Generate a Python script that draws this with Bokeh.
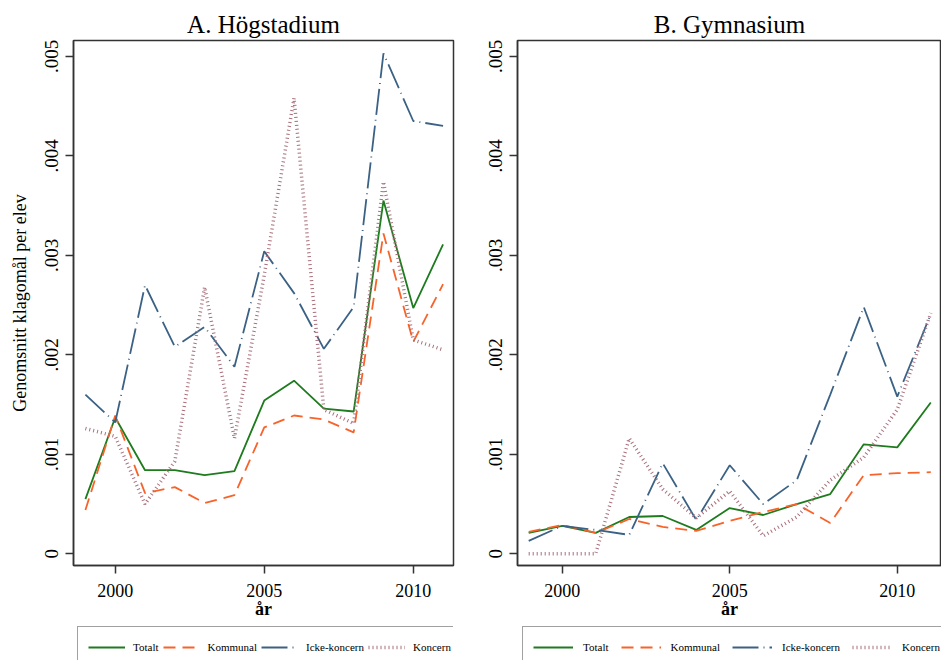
from bokeh.plotting import figure
from bokeh.models import (FixedTicker, CustomJSTickFormatter, Legend, LegendItem, Range1d)
from bokeh.layouts import row, column
from bokeh.embed import file_html
from bokeh.resources import INLINE

# ---------------- data ----------------
years = [1999, 2000, 2001, 2002, 2003, 2004, 2005, 2006, 2007, 2008, 2009, 2010, 2011]

series_names = ["Totalt", "Kommunal", "Icke-koncern", "Koncern"]

# A. Högstadium
hog_totalt = [0.00055, 0.00137, 0.00084, 0.00084, 0.00079, 0.00083, 0.00154,
              0.00174, 0.00146, 0.00143, 0.00355, 0.00247, 0.00311]
hog_kommunal = [0.00044, 0.00139, 0.00061, 0.00067, 0.00051, 0.00059, 0.00127,
                0.00139, 0.00135, 0.00122, 0.00322, 0.00213, 0.00271]
hog_icke = [0.00160, 0.00132, 0.00270, 0.00208, 0.00228, 0.00188, 0.00304,
            0.00262, 0.00206, 0.00248, 0.00503, 0.00435, 0.00430]
hog_koncern = [0.00126, 0.00118, 0.00050, 0.00093, 0.00268, 0.00116, 0.00280,
               0.00458, 0.00145, 0.00131, 0.00374, 0.00215, 0.00205]

# B. Gymnasium
gym_totalt = [0.00021, 0.00028, 0.00021, 0.00037, 0.00038, 0.00024, 0.00046,
              0.00039, 0.00050, 0.00060, 0.00110, 0.00107, 0.00152]
gym_kommunal = [0.00022, 0.00029, 0.00021, 0.00035, 0.00027, 0.00023, 0.00033,
                0.00042, 0.00050, 0.00031, 0.00079, 0.00081, 0.00082]
gym_icke = [0.00013, 0.00028, 0.00024, 0.00019, 0.00091, 0.00034, 0.00089,
            0.00050, 0.00074, 0.00160, 0.00248, 0.00158, 0.00241]
gym_koncern = [0.0, 0.0, 0.0, 0.00116, 0.00065, 0.00036, 0.00063,
               0.00018, 0.00037, 0.00074, 0.00097, 0.00145, 0.00242]

x_ticks = [2000, 2005, 2010]
y_ticks = [0, 0.001, 0.002, 0.003, 0.004, 0.005]

titles = ["A. Högstadium", "B. Gymnasium"]
x_title = "år"
y_title = "Genomsnitt klagomål per elev"

# ---------------- styles ----------------
FONT = "Liberation Serif"
AX = "#333333"
styles = [
    dict(line_color="#1e7b1e", line_width=1.8, line_dash="solid"),
    dict(line_color="#f8632a", line_width=1.8, line_dash="12 7"),
    dict(line_color="#3b6285", line_width=1.8, line_dash="26 5 1 5"),
    dict(line_color="#a8707c", line_width=3.5, line_dash="1 3"),
]

MAIN_H = 625
LEG_H = 35


def make_panel(title, data, width, b_left, b_right, x_start, x_end, show_ytitle):
    p = figure(width=width, height=MAIN_H, output_backend="svg", toolbar_location=None,
               x_range=Range1d(x_start, x_end),
               y_range=Range1d(-0.0001176, 0.005159),
               min_border_left=b_left, min_border_right=b_right,
               min_border_top=40, min_border_bottom=MAIN_H - 565,
               title=title)
    p.background_fill_color = "white"
    p.border_fill_color = "white"
    p.outline_line_color = AX
    p.outline_line_width = 1.5
    p.xgrid.visible = False
    p.ygrid.visible = False

    p.title.text_font = FONT
    p.title.text_font_size = "25px"
    p.title.text_font_style = "normal"
    p.title.text_color = "black"
    p.title.align = "center"
    p.title.standoff = 5

    for ax in (p.xaxis[0], p.yaxis[0]):
        ax.axis_line_color = AX
        ax.axis_line_width = 1.5
        ax.major_tick_line_color = AX
        ax.major_tick_line_width = 1.5
        ax.major_tick_out = 8
        ax.major_tick_in = 0
        ax.minor_tick_line_color = None
        ax.major_label_text_font = FONT
        ax.major_label_text_color = "black"
        ax.axis_label_text_font = FONT
        ax.axis_label_text_color = "black"

    p.xaxis.ticker = FixedTicker(ticks=x_ticks)
    p.xaxis.major_label_text_font_size = "18px"
    p.xaxis.major_label_standoff = 10
    p.xaxis.axis_label = x_title
    p.xaxis.axis_label_text_font_size = "18px"
    p.xaxis.axis_label_text_font_style = "bold"
    p.xaxis.axis_label_standoff = -1

    p.yaxis.ticker = FixedTicker(ticks=y_ticks)
    p.yaxis.formatter = CustomJSTickFormatter(
        code="if (Math.abs(tick) < 1e-12) { return '0'; } return tick.toFixed(3).replace(/^0/, '');")
    p.yaxis.major_label_text_font_size = "19px"
    p.yaxis.major_label_orientation = "vertical"
    p.yaxis.major_label_standoff = 7
    if show_ytitle:
        p.yaxis.axis_label = y_title
        p.yaxis.axis_label_text_font_size = "18px"
        p.yaxis.axis_label_text_font_style = "normal"
        p.yaxis.axis_label_standoff = 13

    for vals, st in zip(data, styles):
        p.line(years, vals, **st)
    return p


def make_legend(data, width, b_left, b_right, leg_x, glyph_w, standoff, spacing):
    # legend strip below the panel; its lines lie outside the visible y-range,
    # so only the legend keys are drawn
    q = figure(width=width, height=LEG_H, output_backend="svg", toolbar_location=None,
               x_axis_location=None, y_axis_location=None,
               x_range=Range1d(1998, 2012), y_range=Range1d(10, 11),
               min_border=0, min_border_left=b_left, min_border_right=b_right,
               min_border_top=0, min_border_bottom=0)
    q.outline_line_color = None
    q.background_fill_color = "white"
    q.border_fill_color = "white"
    q.xgrid.visible = False
    q.ygrid.visible = False
    items = []
    for name, vals, st in zip(series_names, data, styles):
        r = q.line(years, vals, **st)
        items.append(LegendItem(label=name, renderers=[r]))
    legend = Legend(items=items, orientation="horizontal", location=(leg_x, -8))
    legend.border_line_color = "#444444"
    legend.border_line_width = 1.5
    legend.background_fill_color = "white"
    legend.background_fill_alpha = 1.0
    legend.label_text_font = FONT
    legend.label_text_font_size = "11px"
    legend.label_text_color = "black"
    legend.glyph_width = glyph_w
    legend.glyph_height = 20
    legend.label_height = 20
    legend.label_standoff = standoff
    legend.spacing = spacing
    legend.padding = 10
    legend.margin = 0
    q.add_layout(legend)
    return q


hog = [hog_totalt, hog_kommunal, hog_icke, hog_koncern]
gym = [gym_totalt, gym_kommunal, gym_icke, gym_koncern]

p1 = make_panel(titles[0], hog, 478, 73, 25, 1998.6, 2011.35, True)
p2 = make_panel(titles[1], gym, 463, 39, 0, 1998.666, 2011.32, False)
l1 = make_legend(hog, 478, 73, 25, 4, 37, 8, 4)
l2 = make_legend(gym, 463, 39, 0, 5, 40, 10, 12)

layout = row(column(p1, l1), column(p2, l2))
open("out.html", "w").write(file_html(layout, INLINE))
